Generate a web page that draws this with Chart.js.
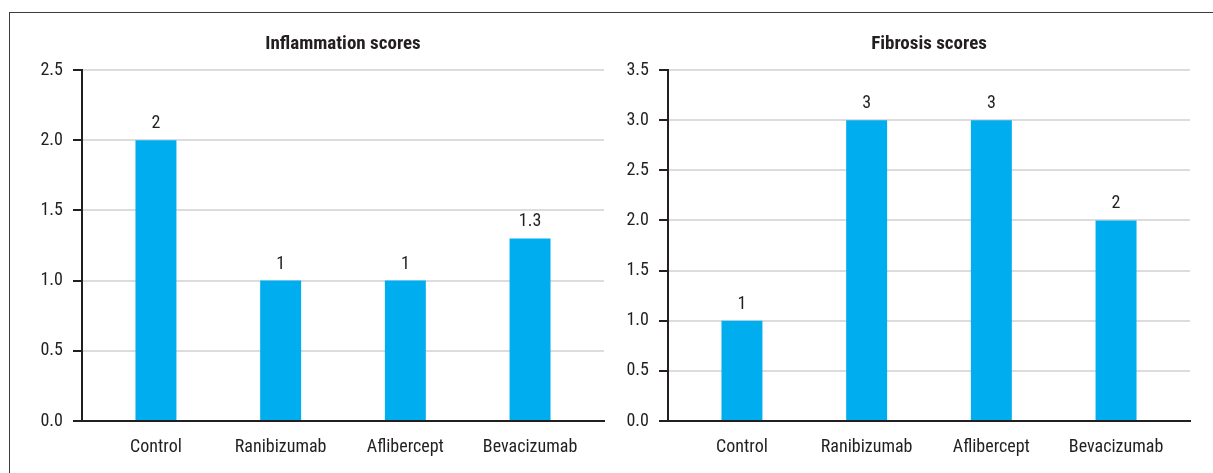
<!DOCTYPE html>
<html>
<head>
<meta charset="utf-8">
<script src="https://cdn.jsdelivr.net/npm/chart.js@4/dist/chart.umd.min.js"></script>
<style>
  html, body { margin: 0; padding: 0; background: #ffffff; }
  body { width: 1213px; height: 473px; position: relative; overflow: hidden; }
  .frame { position: absolute; left: 9px; top: 12px; width: 1400px; height: 600px;
           border-left: 1.5px solid #3c3c3c; border-top: 1.5px solid #3c3c3c; }
  canvas { position: absolute; top: 0; }
  #inflammation { left: 0; }
  #fibrosis { left: 615px; }
</style>
</head>
<body>
<div class="frame"></div>
<canvas id="inflammation" width="615" height="473"></canvas>
<canvas id="fibrosis" width="598" height="473"></canvas>
<script>
// Treatment groups shared by both panels
const categories = ['Control', 'Ranibizumab', 'Aflibercept', 'Bevacizumab'];

// Mean scores per group
const inflammationScores = [2, 1, 1, 1.3];
const fibrosisScores = [1, 3, 3, 2];

// Value-axis ticks
const inflammationTicks = [0, 0.5, 1, 1.5, 2, 2.5];
const fibrosisTicks = [0, 0.5, 1, 1.5, 2, 2.5, 3, 3.5];

const FONT = '"Liberation Sans Narrow", "Arial Narrow", "Roboto Condensed", sans-serif';
const INK = '#231f20';
const BAR = '#00aeef';

// Writes each bar's value just above it
const valueLabels = {
  id: 'valueLabels',
  afterDatasetsDraw(chart) {
    const ctx = chart.ctx;
    const meta = chart.getDatasetMeta(0);
    const data = chart.data.datasets[0].data;
    ctx.save();
    ctx.font = '18px ' + FONT;
    ctx.fillStyle = INK;
    ctx.textAlign = 'center';
    ctx.textBaseline = 'alphabetic';
    meta.data.forEach((bar, i) => {
      ctx.fillText(String(data[i].y), bar.x, bar.y - 12);
    });
    ctx.restore();
  }
};

function buildChart(id, title, values, ticks, axisWidth, rightPad) {
  const maxTick = ticks[ticks.length - 1];
  return new Chart(document.getElementById(id), {
    type: 'bar',
    data: {
      datasets: [{
        data: values.map((v, i) => ({ x: i, y: v })),
        backgroundColor: BAR,
        borderWidth: 0,
        barPercentage: 1,
        categoryPercentage: 0.3285
      }]
    },
    options: {
      responsive: false,
      animation: false,
      devicePixelRatio: 1,
      layout: { padding: { left: 0, right: rightPad, top: 0, bottom: 0 } },
      plugins: {
        legend: { display: false },
        tooltip: { enabled: false },
        title: {
          display: true,
          fullSize: false,
          text: title,
          color: INK,
          font: { family: FONT, size: 19, weight: 'bold', lineHeight: 1.2 },
          padding: { top: 32.6, bottom: 14.6 }
        }
      },
      scales: {
        x: {
          type: 'linear',
          min: -0.593,
          max: categories.length - 1 + 0.593,
          offset: false,
          afterBuildTicks(scale) {
            scale.ticks = categories.map((c, i) => ({ value: i }));
          },
          afterFit(scale) { scale.height = 52; },
          grid: { display: true, drawOnChartArea: false, drawTicks: false },
          border: { display: true, color: INK, width: 2 },
          ticks: {
            color: INK,
            font: { family: FONT, size: 18 },
            padding: 16,
            maxRotation: 0,
            autoSkip: false,
            callback: (v) => categories[v]
          }
        },
        y: {
          min: 0,
          max: maxTick,
          afterBuildTicks(scale) {
            scale.ticks = ticks.map(v => ({ value: v }));
          },
          afterFit(scale) { scale.width = axisWidth; },
          grid: { color: '#dcdcdc', lineWidth: 2, tickColor: INK, tickLength: 9, tickWidth: 2 },
          border: { display: true, color: INK, width: 2 },
          ticks: {
            color: INK,
            font: { family: FONT, size: 18 },
            padding: 10,
            callback: (v) => v.toFixed(1)
          }
        }
      }
    },
    plugins: [valueLabels]
  });
}

buildChart('inflammation', 'Inflammation scores', inflammationScores, inflammationTicks, 82, 11);
buildChart('fibrosis', 'Fibrosis scores', fibrosisScores, fibrosisTicks, 53, 23);
</script>
</body>
</html>
